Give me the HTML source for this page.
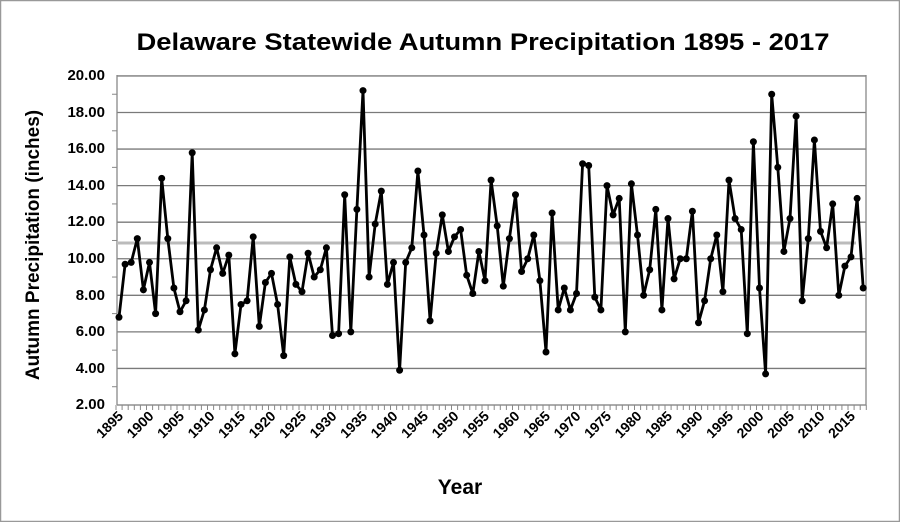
<!DOCTYPE html>
<html><head><meta charset="utf-8"><style>
html,body{margin:0;padding:0;background:#fff;}
svg{display:block;font-family:"Liberation Sans",sans-serif;font-weight:bold;}
</style></head><body>
<svg id="s" width="900" height="522" viewBox="0 0 900 522" xmlns="http://www.w3.org/2000/svg">
<rect x="0.5" y="0.5" width="899" height="521" fill="#fff" stroke="#999" stroke-width="1.5"/>
<text x="483" y="50" font-size="24" text-anchor="middle" textLength="693" lengthAdjust="spacingAndGlyphs">Delaware Statewide Autumn Precipitation 1895 - 2017</text>
<g id="grid" stroke="#7a7a7a" stroke-width="1.3"></g>
<line x1="117" y1="75" x2="117" y2="405" stroke="#888" stroke-width="1.3"/>
<line x1="866" y1="75" x2="866" y2="405" stroke="#888" stroke-width="1.3"/>
<g id="ticks" stroke="#888" stroke-width="1"></g>
<line x1="117" y1="243" x2="856" y2="243" stroke="#bbb" stroke-width="3"/>
<g font-size="15" text-anchor="end">
<text x="105" y="80">20.00</text>
<text x="105" y="117">18.00</text>
<text x="105" y="153">16.00</text>
<text x="105" y="190">14.00</text>
<text x="105" y="226">12.00</text>
<text x="105" y="263">10.00</text>
<text x="105" y="300">8.00</text>
<text x="105" y="336">6.00</text>
<text x="105" y="373">4.00</text>
<text x="105" y="409">2.00</text>
</g>
<g font-size="14" text-anchor="end">
<text transform="translate(124,417) rotate(-45)">1895</text>
<text transform="translate(154.5,417) rotate(-45)">1900</text>
<text transform="translate(185,417) rotate(-45)">1905</text>
<text transform="translate(215.5,417) rotate(-45)">1910</text>
<text transform="translate(246,417) rotate(-45)">1915</text>
<text transform="translate(276.5,417) rotate(-45)">1920</text>
<text transform="translate(307,417) rotate(-45)">1925</text>
<text transform="translate(337.5,417) rotate(-45)">1930</text>
<text transform="translate(368,417) rotate(-45)">1935</text>
<text transform="translate(398.5,417) rotate(-45)">1940</text>
<text transform="translate(429,417) rotate(-45)">1945</text>
<text transform="translate(459.5,417) rotate(-45)">1950</text>
<text transform="translate(490,417) rotate(-45)">1955</text>
<text transform="translate(520.5,417) rotate(-45)">1960</text>
<text transform="translate(551,417) rotate(-45)">1965</text>
<text transform="translate(581.5,417) rotate(-45)">1970</text>
<text transform="translate(612,417) rotate(-45)">1975</text>
<text transform="translate(642.5,417) rotate(-45)">1980</text>
<text transform="translate(673,417) rotate(-45)">1985</text>
<text transform="translate(703.5,417) rotate(-45)">1990</text>
<text transform="translate(734,417) rotate(-45)">1995</text>
<text transform="translate(764.5,417) rotate(-45)">2000</text>
<text transform="translate(795,417) rotate(-45)">2005</text>
<text transform="translate(825.5,417) rotate(-45)">2010</text>
<text transform="translate(856,417) rotate(-45)">2015</text>
</g>
<text x="460" y="494" font-size="21" text-anchor="middle">Year</text>
<text transform="translate(39,245) rotate(-90)" font-size="19" text-anchor="middle">Autumn Precipitation (inches)</text>
<polyline id="pl" fill="none" stroke="#000" stroke-width="2.8" stroke-linejoin="round"/>
<g id="dots" fill="#000"></g>
</svg>
<script>
var v=[6.8,9.7,9.8,11.1,8.3,9.8,7.0,14.4,11.1,8.4,7.1,7.7,15.8,6.1,7.2,9.4,10.6,9.2,10.2,4.8,7.5,7.7,11.2,6.3,8.7,9.2,7.5,4.7,10.1,8.6,8.2,10.3,9.0,9.4,10.6,5.8,5.9,13.5,6.0,12.7,19.2,9.0,11.9,13.7,8.6,9.8,3.9,9.8,10.6,14.8,11.3,6.6,10.3,12.4,10.4,11.2,11.6,9.1,8.1,10.4,8.8,14.3,11.8,8.5,11.1,13.5,9.3,10.0,11.3,8.8,4.9,12.5,7.2,8.4,7.2,8.1,15.2,15.1,7.9,7.2,14.0,12.4,13.3,6.0,14.1,11.3,8.0,9.4,12.7,7.2,12.2,8.9,10.0,10.0,12.6,6.5,7.7,10.0,11.3,8.2,14.3,12.2,11.6,5.9,16.4,8.4,3.7,19.0,15.0,10.4,12.2,17.8,7.7,11.1,16.5,11.5,10.6,13.0,8.0,9.6,10.1,13.3,8.4];
var NS="http://www.w3.org/2000/svg";
function Y(d){return 405-(d-2)*18.28;}
function X(i){return 119+i*6.1;}
var pts=[],dots=document.getElementById('dots');
v.forEach(function(d,i){pts.push(X(i).toFixed(1)+","+Y(d).toFixed(1));
var c=document.createElementNS(NS,'circle');c.setAttribute('cx',X(i));c.setAttribute('cy',Y(d));c.setAttribute('r',3.5);dots.appendChild(c);});
document.getElementById('pl').setAttribute('points',pts.join(' '));
var g=document.getElementById('grid');
for(var k=2;k<=20;k+=2){var l=document.createElementNS(NS,'line');l.setAttribute('x1',117);l.setAttribute('x2',866);l.setAttribute('y1',Y(k));l.setAttribute('y2',Y(k));g.appendChild(l);}
var t=document.getElementById('ticks');
for(var k=3;k<20;k+=2){var l=document.createElementNS(NS,'line');l.setAttribute('x1',112);l.setAttribute('x2',117);l.setAttribute('y1',Y(k));l.setAttribute('y2',Y(k));t.appendChild(l);}
for(var i=0;i<=123;i++){var x=116+i*6.1;var l=document.createElementNS(NS,'line');l.setAttribute('x1',x);l.setAttribute('x2',x);l.setAttribute('y1',405);l.setAttribute('y2',410);t.appendChild(l);}
</script>
</body></html>
